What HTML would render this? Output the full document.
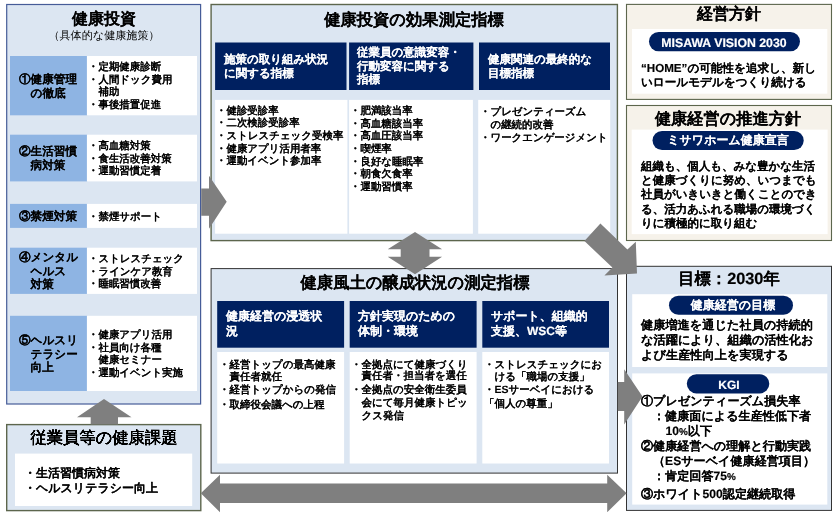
<!DOCTYPE html>
<html lang="ja"><head><meta charset="utf-8"><title>健康経営 戦略マップ</title>
<style>
html,body{margin:0;padding:0;background:#fff;}
body{width:838px;height:515px;position:relative;overflow:hidden;font-family:"Liberation Sans",sans-serif;font-weight:bold;}
svg{position:absolute;left:0;top:0;}
#tx{position:absolute;left:0;top:0;width:838px;height:515px;will-change:transform;}
.t{position:absolute;white-space:nowrap;transform:scale(0.25);transform-origin:0 0;color:#000;-webkit-text-stroke:0.7px currentColor;text-rendering:geometricPrecision;}
.h{display:inline-block;width:1em;}
.c{display:inline-block;width:1em;}
.p{font-size:.82em;}
.k1{display:inline-block;width:48px;}
.k2{display:inline-block;width:98px;}
</style></head><body>
<svg width="838" height="515" viewBox="0 0 838 515">
<rect x="6.70" y="4.50" width="193.90" height="399.50" fill="#dce6f2" stroke="#465c98" stroke-width="1.2"/>
<rect x="10.00" y="56.00" width="77.20" height="59.30" fill="#8eb4e3"/>
<rect x="86.90" y="56.00" width="110.10" height="59.30" fill="#fff"/>
<rect x="10.00" y="134.70" width="77.20" height="46.70" fill="#8eb4e3"/>
<rect x="86.90" y="134.70" width="110.10" height="46.70" fill="#fff"/>
<rect x="10.00" y="203.90" width="77.20" height="24.00" fill="#8eb4e3"/>
<rect x="86.90" y="203.90" width="110.10" height="24.00" fill="#fff"/>
<rect x="10.00" y="247.70" width="77.20" height="46.20" fill="#8eb4e3"/>
<rect x="86.90" y="247.70" width="110.10" height="46.20" fill="#fff"/>
<rect x="10.00" y="315.80" width="77.20" height="75.20" fill="#8eb4e3"/>
<rect x="86.90" y="315.80" width="110.10" height="75.20" fill="#fff"/>
<rect x="6.70" y="424.60" width="194.10" height="86.00" fill="#dce6f2" stroke="#5d664d" stroke-width="1.4"/>
<rect x="15.00" y="453.60" width="177.20" height="52.40" fill="#fff"/>
<rect x="211.10" y="4.50" width="406.30" height="236.10" fill="#dce6f2" stroke="#5d664d" stroke-width="1.4"/>
<rect x="215.10" y="42.50" width="131.40" height="47.50" fill="#002060"/>
<rect x="349.10" y="42.50" width="124.30" height="47.50" fill="#002060"/>
<rect x="479.00" y="42.50" width="131.00" height="47.50" fill="#002060"/>
<rect x="215.10" y="99.90" width="132.30" height="133.80" fill="#fff"/>
<rect x="349.10" y="99.90" width="123.80" height="133.80" fill="#fff"/>
<rect x="478.20" y="99.90" width="132.00" height="133.80" fill="#fff"/>
<rect x="211.10" y="268.60" width="406.40" height="204.50" fill="#dce6f2" stroke="#333333" stroke-width="1.0"/>
<rect x="217.20" y="301.00" width="126.90" height="46.70" fill="#002060"/>
<rect x="217.20" y="352.00" width="126.90" height="111.50" fill="#fff"/>
<rect x="349.70" y="301.00" width="126.90" height="46.70" fill="#002060"/>
<rect x="349.70" y="352.00" width="126.90" height="111.50" fill="#fff"/>
<rect x="482.30" y="301.00" width="126.70" height="46.70" fill="#002060"/>
<rect x="482.30" y="352.00" width="126.70" height="111.50" fill="#fff"/>
<rect x="626.50" y="4.40" width="205.00" height="95.00" fill="#f6f2ea" stroke="#5d664d" stroke-width="1.1"/>
<rect x="632.00" y="29.00" width="195.30" height="64.70" fill="#fff"/>
<rect x="649.00" y="32.00" width="151.00" height="19.20" fill="#002060" rx="9.6" ry="9.6"/>
<rect x="626.50" y="105.50" width="205.00" height="135.00" fill="#f6f2ea" stroke="#5d664d" stroke-width="1.1"/>
<rect x="631.70" y="129.60" width="195.90" height="104.50" fill="#fff"/>
<rect x="652.50" y="131.00" width="151.20" height="19.00" fill="#002060" rx="9.5" ry="9.5"/>
<rect x="626.50" y="266.30" width="205.00" height="244.10" fill="#dce6f2" stroke="#333333" stroke-width="1.0"/>
<rect x="632.20" y="294.20" width="195.10" height="72.80" fill="#fff"/>
<rect x="632.20" y="373.40" width="195.10" height="131.20" fill="#fff"/>
<rect x="669.00" y="295.80" width="124.00" height="19.00" fill="#002060" rx="9.5" ry="9.5"/>
<rect x="686.80" y="374.20" width="82.50" height="19.20" fill="#002060" rx="9.6" ry="9.6"/>
<polygon points="200.8,493.3 220.0,474.7 220.0,483.4 607.2,483.4 607.2,474.7 626.6,493.3 607.2,512.2 607.2,502.9 220.0,502.9 220.0,512.2" fill="#7f7f7f"/>
<polygon points="104.0,399.0 131.5,417.3 118.0,417.3 118.0,424.4 90.7,424.4 90.7,417.3 77.0,417.3" fill="#7f7f7f"/>
<polygon points="201.2,188.5 209.0,188.5 209.0,175.8 226.7,201.8 209.0,228.8 209.0,215.7 201.2,215.7" fill="#7f7f7f"/>
<polygon points="415.0,232.0 442.1,249.2 429.5,249.2 429.5,256.7 442.1,256.7 415.0,274.2 387.7,256.7 400.7,256.7 400.7,249.2 387.7,249.2" fill="#7f7f7f"/>
<polygon points="600.4,223.6 627.4,249.6 635.8,241.8 637.0,273.6 604.4,275.6 612.4,267.6 584.4,241.0" fill="#7f7f7f"/>
<polygon points="617.8,382.0 624.2,382.0 624.2,369.2 642.5,396.6 624.2,424.4 624.2,411.0 617.8,411.0" fill="#7f7f7f"/>
</svg>
<div id="tx">
<div class="t" style="top:9.00px;font-size:64.00px;line-height:76.00px;left:-46.30px;width:1200px;text-align:center;">健康投資</div>
<div class="t" style="top:29.20px;font-size:44.40px;line-height:52.00px;font-weight:normal;left:-46.30px;width:1200px;text-align:center;-webkit-text-stroke:0;">（具体的な健康施策）</div>
<div class="t" style="top:9.50px;font-size:65.20px;line-height:76.00px;left:264.30px;width:1200px;text-align:center;">健康投資の効果測定指標</div>
<div class="t" style="top:272.70px;font-size:65.20px;line-height:76.00px;left:264.50px;width:1200px;text-align:center;">健康風土の醸成状況の測定指標</div>
<div class="t" style="top:4.40px;font-size:64.00px;line-height:76.00px;left:578.70px;width:1200px;text-align:center;">経営方針</div>
<div class="t" style="top:109.40px;font-size:64.80px;line-height:76.00px;left:578.40px;width:1200px;text-align:center;">健康経営の推進方針</div>
<div class="t" style="top:269.30px;font-size:65.20px;line-height:76.00px;left:578.70px;width:1200px;text-align:center;">目標：2030年</div>
<div class="t" style="top:427.50px;font-size:65.20px;line-height:76.00px;left:-46.30px;width:1200px;text-align:center;">従業員等の健康課題</div>
<div class="t" style="top:71.50px;font-size:46.40px;line-height:55.60px;left:18.90px;"><span class="c">①</span>健康管理<br><span class="h"></span>の徹底</div>
<div class="t" style="top:143.80px;font-size:46.40px;line-height:54.80px;left:18.90px;"><span class="c">②</span>生活習慣<br><span class="h"></span>病対策</div>
<div class="t" style="top:208.70px;font-size:46.40px;line-height:54.80px;left:18.90px;"><span class="c">③</span>禁煙対策</div>
<div class="t" style="top:250.40px;font-size:46.40px;line-height:54.80px;left:18.90px;"><span class="c">④</span>メンタル<br><span class="h"></span>ヘルス<br><span class="h"></span>対策</div>
<div class="t" style="top:332.90px;font-size:46.40px;line-height:54.80px;left:18.90px;"><span class="c">⑤</span>ヘルスリ<br><span class="h"></span>テラシー<br><span class="h"></span>向上</div>
<div class="t" style="top:59.50px;font-size:41.80px;line-height:50.80px;left:88.40px;-webkit-text-stroke-width:0.3px;">・定期健康診断<br>・人間ドック費用<br>　補助<br>・事後措置促進</div>
<div class="t" style="top:139.00px;font-size:41.80px;line-height:50.80px;left:88.40px;-webkit-text-stroke-width:0.3px;">・高血糖対策<br>・食生活改善対策<br>・運動習慣定着</div>
<div class="t" style="top:209.80px;font-size:41.80px;line-height:50.80px;left:88.40px;-webkit-text-stroke-width:0.3px;">・禁煙サポート</div>
<div class="t" style="top:251.60px;font-size:41.80px;line-height:50.80px;left:88.40px;-webkit-text-stroke-width:0.3px;">・ストレスチェック<br>・ラインケア教育<br>・睡眠習慣改善</div>
<div class="t" style="top:327.80px;font-size:41.80px;line-height:50.80px;left:88.40px;-webkit-text-stroke-width:0.3px;">・健康アプリ活用<br>・社員向け各種<br>　健康セミナー<br>・運動イベント実施</div>
<div class="t" style="top:464.60px;font-size:48.00px;line-height:61.60px;left:23.50px;">・生活習慣病対策<br>・ヘルスリテラシー向上</div>
<div class="t" style="top:52.30px;font-size:46.00px;line-height:55.20px;color:#fff;left:224.00px;">施策の取り組み状況<br>に関する指標</div>
<div class="t" style="top:45.20px;font-size:46.00px;line-height:55.20px;color:#fff;left:357.40px;">従業員の意識変容・<br>行動変容に関する<br>指標</div>
<div class="t" style="top:52.30px;font-size:46.00px;line-height:55.20px;color:#fff;left:487.50px;">健康関連の最終的な<br>目標指標</div>
<div class="t" style="top:103.90px;font-size:41.80px;line-height:50.20px;left:215.90px;-webkit-text-stroke-width:0.3px;">・健診受診率<br>・二次検診受診率<br>・ストレスチェック受検率<br>・健康アプリ活用者率<br>・運動イベント参加率</div>
<div class="t" style="top:103.90px;font-size:41.80px;line-height:50.80px;left:350.20px;-webkit-text-stroke-width:0.3px;">・肥満該当率<br>・高血糖該当率<br>・高血圧該当率<br>・喫煙率<br>・良好な睡眠率<br>・朝食欠食率<br>・運動習慣率</div>
<div class="t" style="top:104.60px;font-size:41.80px;line-height:52.00px;left:480.30px;-webkit-text-stroke-width:0.3px;">・プレゼンティーズム<br>　の継続的改善<br>・ワークエンゲージメント</div>
<div class="t" style="top:309.00px;font-size:48.00px;line-height:60.00px;color:#fff;left:226.00px;">健康経営の浸透状<br>況</div>
<div class="t" style="top:309.00px;font-size:48.00px;line-height:60.00px;color:#fff;left:357.70px;">方針実現のための<br>体制・環境</div>
<div class="t" style="top:309.40px;font-size:48.00px;line-height:60.00px;color:#fff;left:491.00px;">サポート、組織的<br>支援、WSC等</div>
<div class="t" style="top:357.60px;font-size:42.00px;line-height:48.80px;left:218.90px;-webkit-text-stroke-width:0.3px;">・経営トップの最高健康<br>　責任者就任</div>
<div class="t" style="top:383.20px;font-size:42.00px;line-height:48.00px;left:218.90px;-webkit-text-stroke-width:0.3px;">・経営トップからの発信</div>
<div class="t" style="top:397.60px;font-size:42.00px;line-height:48.00px;left:218.90px;-webkit-text-stroke-width:0.3px;">・取締役会議への上程</div>
<div class="t" style="top:357.70px;font-size:42.00px;line-height:47.20px;left:351.00px;-webkit-text-stroke-width:0.3px;">・全拠点にて健康づくり<br>　責任者・担当者を選任</div>
<div class="t" style="top:382.65px;font-size:42.00px;line-height:52.40px;left:351.00px;-webkit-text-stroke-width:0.3px;">・全拠点の安全衛生委員<br>　会にて毎月健康トピッ<br>　クス発信</div>
<div class="t" style="top:357.50px;font-size:42.00px;line-height:47.60px;left:484.00px;-webkit-text-stroke-width:0.3px;">・ストレスチェックにお<br>　ける「職場の支援」</div>
<div class="t" style="top:382.80px;font-size:42.00px;line-height:48.00px;left:484.00px;-webkit-text-stroke-width:0.3px;">・ESサーベイにおける</div>
<div class="t" style="top:397.20px;font-size:42.00px;line-height:48.00px;left:484.00px;-webkit-text-stroke-width:0.3px;">「個人の尊重」</div>
<div class="t" style="top:35.80px;font-size:49.20px;line-height:56.00px;color:#fff;left:574.00px;width:1200px;text-align:center;">MISAWA VISION 2030</div>
<div class="t" style="top:61.00px;font-size:46.40px;line-height:57.20px;left:640.80px;">“HOME”の可能性を追求し、新し<br>いロールモデルをつくり続ける</div>
<div class="t" style="top:133.40px;font-size:48.00px;line-height:56.00px;color:#fff;left:578.00px;width:1200px;text-align:center;">ミサワホーム健康宣言</div>
<div class="t" style="top:158.70px;font-size:46.00px;line-height:56.60px;left:640.50px;">組織も、個人も、みな豊かな生活<br>と健康づくりに努め、いつまでも<br>社員がいきいきと働くことのでき<br>る、活力あふれる職場の環境づく<br>りに積極的に取り組む</div>
<div class="t" style="top:298.20px;font-size:48.00px;line-height:56.00px;color:#fff;left:582.50px;width:1200px;text-align:center;">健康経営の目標</div>
<div class="t" style="top:317.00px;font-size:48.80px;line-height:60.00px;left:641.30px;">健康増進を通じた社員の持続的<br>な活躍により、組織の活性化お<br>よび生産性向上を実現する</div>
<div class="t" style="top:378.30px;font-size:48.00px;line-height:56.00px;color:#fff;left:579.40px;width:1200px;text-align:center;">KGI</div>
<div class="t" style="top:393.10px;font-size:48.40px;line-height:60.00px;left:641.00px;"><span class="c">①</span>プレゼンティーズム損失率<br><span class="k1"></span>：健康面による生産性低下者<br><span class="k2"></span>10<span class="p">%</span>以下<br><span class="c">②</span>健康経営への理解と行動実践<br><span class="k1"></span>（ESサーベイ健康経営項目）<br><span class="k1"></span>：肯定回答75<span class="p">%</span></div>
<div class="t" style="top:486.30px;font-size:48.40px;line-height:60.00px;left:641.00px;"><span class="c">③</span>ホワイト500認定継続取得</div>
</div>
</body></html>
